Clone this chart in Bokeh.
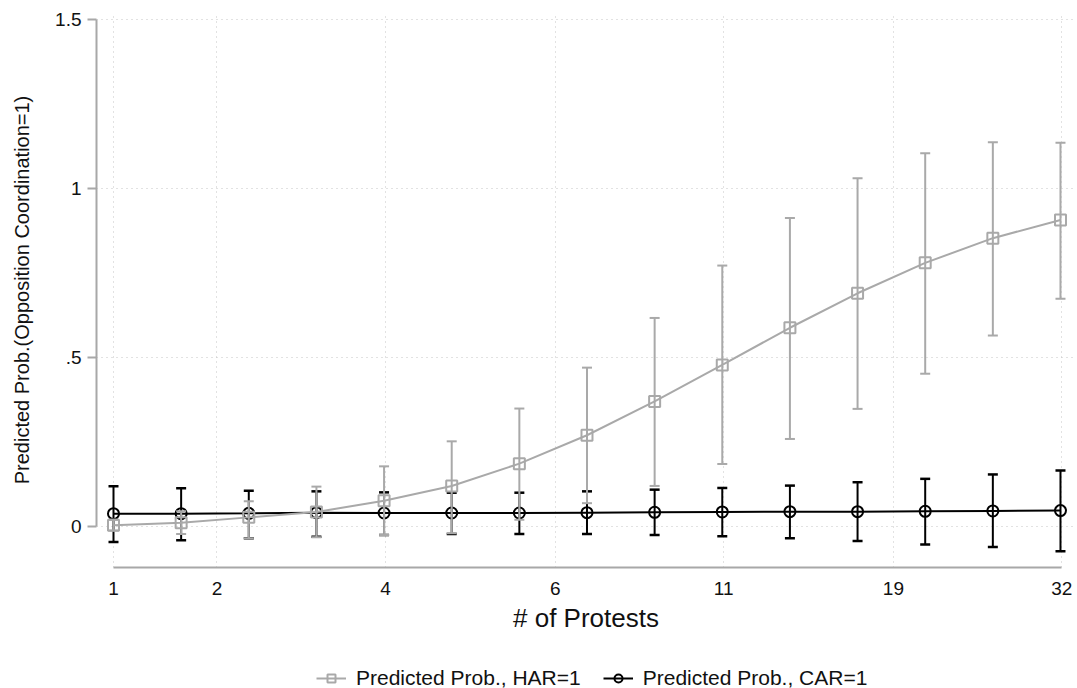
from bokeh.plotting import figure
from bokeh.models import Legend, LegendItem, FixedTicker, Range1d
from bokeh.layouts import column
from bokeh.embed import file_html
from bokeh.resources import INLINE

# ---- data ----
x_pos = list(range(15))
tick_pos = [0, 1.53, 4.02, 6.53, 9.02, 11.53, 14.02]
tick_labels = ["1", "2", "4", "6", "11", "19", "32"]
y_ticks = [0, 0.5, 1, 1.5]
y_tick_labels = ["0", ".5", "1", "1.5"]

har_est = [0.004, 0.011, 0.027, 0.043, 0.076, 0.120, 0.186, 0.270, 0.370, 0.478, 0.588, 0.690, 0.780, 0.853, 0.907]
har_lo = [-0.012, -0.022, -0.035, -0.032, -0.025, -0.020, 0.020, 0.069, 0.120, 0.185, 0.259, 0.348, 0.452, 0.565, 0.674]
har_hi = [0.020, 0.045, 0.075, 0.118, 0.178, 0.252, 0.349, 0.470, 0.617, 0.772, 0.913, 1.030, 1.104, 1.137, 1.135]

car_est = [0.038, 0.038, 0.039, 0.041, 0.040, 0.040, 0.040, 0.041, 0.042, 0.043, 0.044, 0.044, 0.045, 0.046, 0.047]
car_lo = [-0.046, -0.041, -0.035, -0.030, -0.025, -0.022, -0.022, -0.022, -0.025, -0.029, -0.035, -0.043, -0.053, -0.061, -0.073]
car_hi = [0.119, 0.113, 0.106, 0.104, 0.101, 0.100, 0.100, 0.104, 0.109, 0.114, 0.121, 0.131, 0.141, 0.154, 0.166]

series_labels = ["Predicted Prob., HAR=1", "Predicted Prob., CAR=1"]

GRAY = "#a9a9a9"
BLACK = "#000000"
AXIS = "#a8a8a8"
FONT = "Liberation Sans"

p = figure(width=1077, height=635, output_backend="svg", toolbar_location=None,
           x_range=Range1d(-0.2513, 14.222), y_range=Range1d(-0.1213, 1.5207),
           min_border_left=96, min_border_right=2, min_border_top=12, min_border_bottom=68)
p.outline_line_color = None
p.background_fill_color = "white"
p.border_fill_color = "white"

# grid
p.xgrid.ticker = FixedTicker(ticks=tick_pos)
p.ygrid.ticker = FixedTicker(ticks=y_ticks)
for g in (p.xgrid, p.ygrid):
    g.grid_line_color = "#c4c4c4"
    g.grid_line_dash = "1 4"
    g.grid_line_width = 1

# x axis
xa = p.xaxis[0]
xa.ticker = FixedTicker(ticks=tick_pos)
xa.major_label_overrides = {t: l for t, l in zip(tick_pos, tick_labels)}
xa.bounds = (tick_pos[0], tick_pos[-1])
xa.axis_line_color = AXIS
xa.axis_line_width = 2
xa.major_tick_line_color = None
xa.minor_tick_line_color = None
xa.major_label_text_font = FONT
xa.major_label_text_font_size = "19px"
xa.major_label_text_color = "#111111"
xa.major_label_standoff = 8
xa.axis_label = "# of Protests"
xa.axis_label_text_font = FONT
xa.axis_label_text_font_size = "26px"
xa.axis_label_text_font_style = "normal"
xa.axis_label_text_color = "#111111"
xa.axis_label_standoff = 5

# y axis
ya = p.yaxis[0]
ya.ticker = FixedTicker(ticks=y_ticks)
ya.major_label_overrides = {t: l for t, l in zip(y_ticks, y_tick_labels)}
ya.bounds = (0, 1.5)
ya.axis_line_color = AXIS
ya.axis_line_width = 2
ya.major_tick_line_color = AXIS
ya.major_tick_line_width = 2
ya.major_tick_out = 9
ya.major_tick_in = 0
ya.minor_tick_line_color = None
ya.major_label_text_font = FONT
ya.major_label_text_font_size = "19px"
ya.major_label_text_color = "#111111"
ya.major_label_standoff = 6
ya.axis_label = "Predicted Prob.(Opposition Coordination=1)"
ya.axis_label_text_font = FONT
ya.axis_label_text_font_size = "20px"
ya.axis_label_text_font_style = "normal"
ya.axis_label_text_color = "#111111"
ya.axis_label_standoff = 19

# CAR=1 (black) series
p.segment(x0=x_pos, y0=car_lo, x1=x_pos, y1=car_hi, line_color=BLACK, line_width=2)
p.scatter(x=x_pos, y=car_hi, marker="dash", size=10, line_color=BLACK, line_width=2.5)
p.scatter(x=x_pos, y=car_lo, marker="dash", size=10, line_color=BLACK, line_width=2.5)
p.line(x=x_pos, y=car_est, line_color=BLACK, line_width=2)
p.scatter(x=x_pos, y=car_est, marker="circle", size=11, line_color=BLACK,
          line_width=2, fill_alpha=0)

# HAR=1 (gray) series
p.segment(x0=x_pos, y0=har_lo, x1=x_pos, y1=har_hi, line_color=GRAY, line_width=2)
p.scatter(x=x_pos, y=har_hi, marker="dash", size=10, line_color=GRAY, line_width=2)
p.scatter(x=x_pos, y=har_lo, marker="dash", size=10, line_color=GRAY, line_width=2)
p.line(x=x_pos, y=har_est, line_color=GRAY, line_width=2)
p.scatter(x=x_pos, y=har_est, marker="square", size=11, line_color=GRAY,
          line_width=2, fill_alpha=0)

# legend strip (separate figure below the plot; series drawn out of view, legend only)
q = figure(width=1077, height=53, output_backend="svg", toolbar_location=None,
           x_axis_type=None, y_axis_type=None,
           x_range=Range1d(-0.2513, 14.222), y_range=Range1d(10, 11),
           min_border_left=0, min_border_right=0, min_border_top=0, min_border_bottom=0)
q.outline_line_color = None
q.grid.visible = False
q.background_fill_color = "white"
lg_har_line = q.line(x=x_pos, y=har_est, line_color=GRAY, line_width=2)
lg_har_pt = q.scatter(x=x_pos, y=har_est, marker="square", size=11, line_color=GRAY,
                      line_width=2, fill_alpha=0)
lg_car_line = q.line(x=x_pos, y=car_est, line_color=BLACK, line_width=2)
lg_car_pt = q.scatter(x=x_pos, y=car_est, marker="circle", size=11, line_color=BLACK,
                      line_width=2, fill_alpha=0)

legend = Legend(items=[
    LegendItem(label=series_labels[0], renderers=[lg_har_line, lg_har_pt]),
    LegendItem(label=series_labels[1], renderers=[lg_car_line, lg_car_pt]),
], location=(220, -2), orientation="horizontal")
legend.label_text_font = FONT
legend.label_text_font_size = "21px"
legend.label_text_color = "#111111"
legend.glyph_width = 30
legend.glyph_height = 20
legend.label_height = 20
legend.label_standoff = 10
legend.spacing = 22
legend.padding = 0
legend.margin = 0
legend.border_line_alpha = 0
legend.background_fill_alpha = 0
q.add_layout(legend)

open("out.html", "w").write(file_html(column(p, q, spacing=0), INLINE))
